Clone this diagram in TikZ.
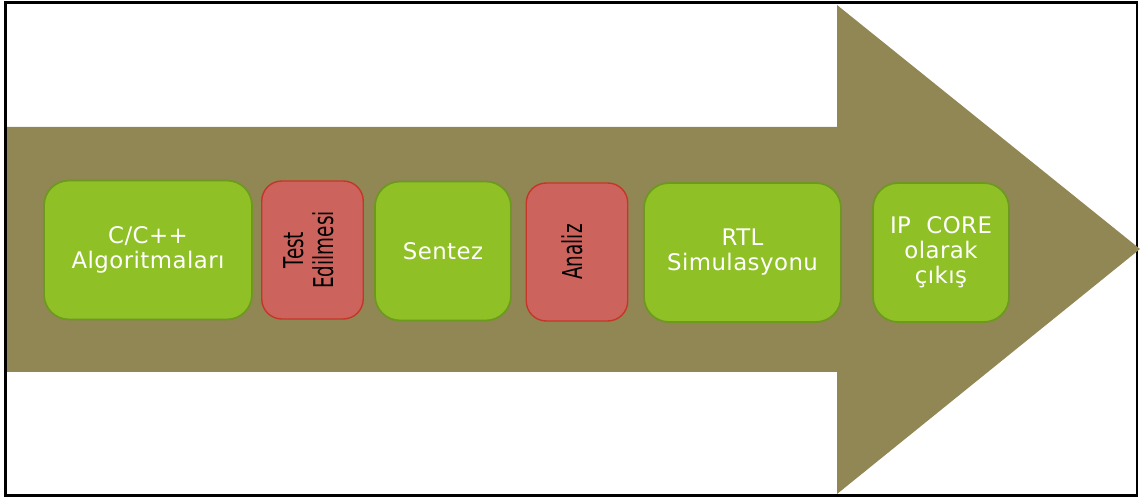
\documentclass[tikz,border=0pt]{standalone}
\usepackage{fontspec}
\usepackage{graphicx}
\newfontfamily\boxfont[LetterSpace=2]{DejaVu Sans}
\newfontfamily\redfont{DejaVu Sans}
\definecolor{arrowbrown}{RGB}{145,135,85}
\definecolor{stepgreen}{RGB}{143,193,38}
\definecolor{stepgreenline}{RGB}{108,153,30}
\definecolor{stepred}{RGB}{204,99,92}
\definecolor{stepredline}{RGB}{196,55,40}
\newcommand{\uptext}[1]{\rotatebox{90}{\scalebox{0.67}[1]{\begin{tabular}{@{}c@{}}#1\end{tabular}}}}

\begin{document}
\begin{tikzpicture}[
	greenbox/.style={draw=stepgreenline, line width=1pt, fill=stepgreen, rounded corners=0.5cm,
		minimum height=2.78cm, text=white, align=center, font=\boxfont\fontsize{13}{14.2}\selectfont},
	redbox/.style={draw=stepredline, line width=0.8pt, fill=stepred, rounded corners=0.4cm,
		minimum height=2.76cm, minimum width=2.03cm, text=black, font=\redfont\fontsize{15.6}{17}\selectfont}]
	\useasboundingbox (0,0) rectangle (22.8,9.96);

	% Frame
	\draw[line width=1.5pt] (0.11,0.05) rectangle (22.74,9.91);

	% Big arrow
	\fill[arrowbrown] (0.14,2.52) -- (0.14,7.42) -- (16.74,7.42) -- (16.74,9.86) -- (22.8,4.98) -- (16.74,0.08) -- (16.74,2.52) -- cycle;

	% Steps
	\node[greenbox, minimum width=4.16cm] (algo) at (2.96,4.96) {C/C++\\Algoritmaları};
	\node[redbox] (test) at (6.25,4.96) {\uptext{Test\\Edilmesi}};
	\node[greenbox, minimum width=2.72cm] (sentez) at (8.86,4.94) {Sentez};
	\node[redbox] (analiz) at (11.54,4.92) {\uptext{Analiz}};
	\node[greenbox, minimum width=3.94cm] (rtl) at (14.85,4.91) {RTL\\Simulasyonu};
	\node[greenbox, minimum width=2.72cm] (ipcore) at (18.82,4.91) {IP\ \ CORE\\olarak\\çıkış};
\end{tikzpicture}
\end{document}
